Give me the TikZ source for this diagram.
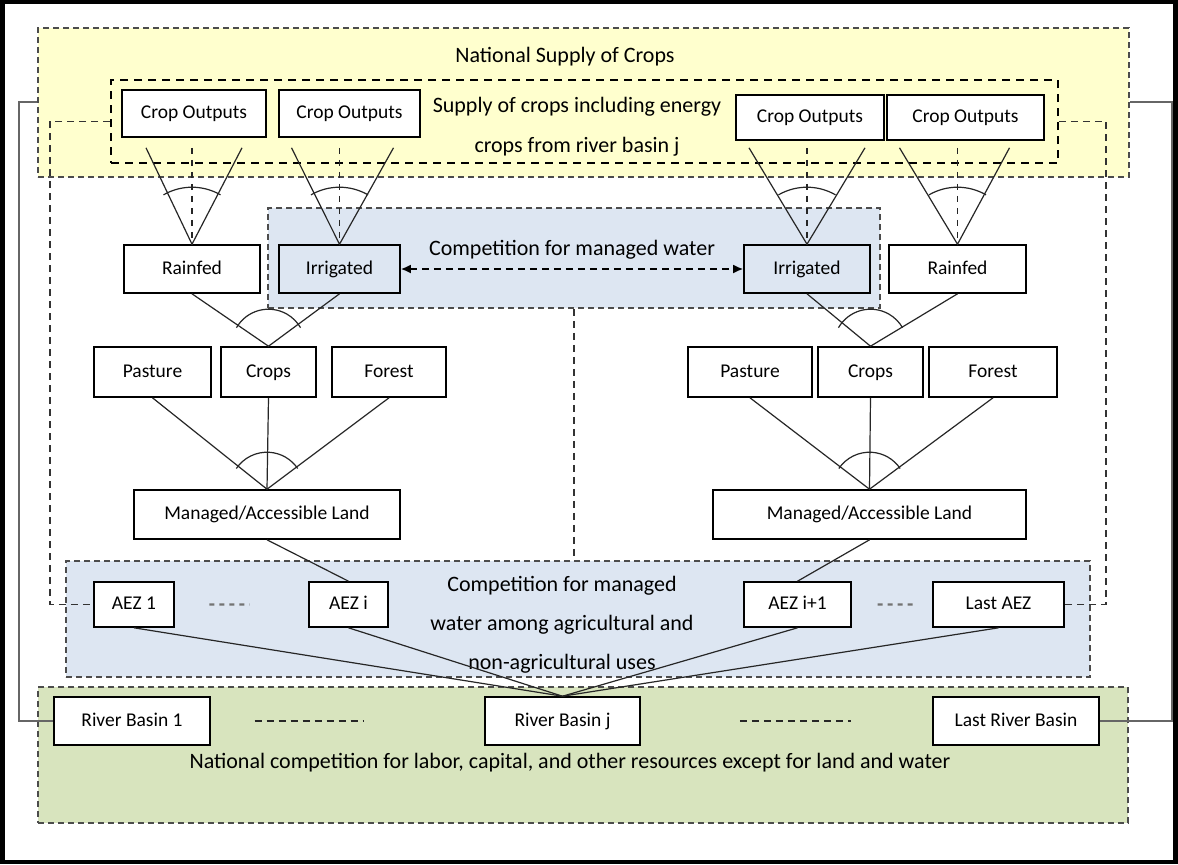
\documentclass[tikz,border=0pt]{standalone}
\usepackage{fontspec}
\setmainfont{Carlito}
\usepackage{xcolor}
\usetikzlibrary{arrows.meta,calc}
\definecolor{supplyyellow}{RGB}{255,255,206}
\definecolor{waterblue}{RGB}{221,230,242}
\definecolor{resourcegreen}{RGB}{216,228,190}
\tikzset{
  cropbox/.style={
    draw,
    line width=0.8pt,
    fill=white,
    inner sep=0,
    text height=7pt,
    text depth=2pt,
    minimum height=24pt
  },
  irrbox/.style={
    cropbox,
    fill=waterblue
  },
  zone/.style={
    draw=black!70,
    line width=0.8pt,
    dash pattern=on 3pt off 2pt,
    inner sep=0
  },
  innerzone/.style={
    draw=black,
    line width=0.8pt,
    dash pattern=on 4pt off 3pt,
    inner sep=0
  },
  zonelabel/.style={
    font=\fontsize{11}{13}\selectfont
  },
  link/.style={
    draw=black!85,
    line width=0.6pt
  },
  andarc/.style={
    draw=black!85,
    line width=0.6pt
  },
  looplink/.style={
    draw=black!80,
    line width=0.7pt,
    dash pattern=on 3.5pt off 2.5pt
  },
  frameline/.style={
    draw=black!60,
    line width=1.1pt
  },
  gapdash/.style={
    draw=black!55,
    line width=1.2pt,
    dash pattern=on 2.5pt off 2.5pt
  },
  basindash/.style={
    draw=black!85,
    line width=0.8pt,
    dash pattern=on 3.5pt off 2.5pt
  },
  wateraccess/.style={
    draw=black,
    line width=0.9pt,
    dash pattern=on 3.5pt off 2.5pt,
    {Latex[length=5pt,width=4.5pt]}-{Latex[length=5pt,width=4.5pt]}
  }
}

\begin{document}
\begin{tikzpicture}[x=0.5pt,y=-0.5pt,font=\fontsize{9.75}{12}\selectfont]
  \useasboundingbox (0,0) rectangle (1178,864);
  \fill[black] (0,0) rectangle (1178,864);
  \fill[white] (5,4) rectangle (1173,860);

  % zones
  \node[zone, fill=supplyyellow, minimum width=545.5pt, minimum height=74.5pt] (natbox) at (583.5,102.5) {};
  \node[innerzone, minimum width=473.5pt, minimum height=41.5pt] (innerbox) at (584.5,121.5) {};
  \node[zone, fill=waterblue, minimum width=306pt, minimum height=50pt] (waterbox) at (574,258) {};
  \node[zone, fill=waterblue, minimum width=512pt, minimum height=58pt] (aezbox) at (578,619) {};
  \node[zone, fill=resourcegreen, minimum width=545pt, minimum height=68pt] (natcomp) at (583,755) {};

  % labels
  \node[zonelabel] (natlabel) at (565,57) {National Supply of Crops};
  \node[align=center, font=\fontsize{11}{20}\selectfont] (supplylabel) at (577,127) {Supply of crops including energy\\crops from river basin j};
  \node[zonelabel] (waterlabel) at (572,250) {Competition for managed water};
  \node[align=center, font=\fontsize{11}{19.5}\selectfont] (aezlabel) at (562,625) {Competition for managed\\water among agricultural and\\non-agricultural uses};
  \node[zonelabel] (natcomplabel) at (570,763) {National competition for labor, capital, and other resources except for land and water};

  % crop outputs
  \node[cropbox, minimum width=72pt, minimum height=23.5pt] (co1) at (194,113.5) {Crop Outputs};
  \node[cropbox, minimum width=70.5pt, minimum height=23.5pt] (co2) at (349.5,113.5) {Crop Outputs};
  \node[cropbox, minimum width=74pt, minimum height=22.5pt] (co3) at (810,117.5) {Crop Outputs};
  \node[cropbox, minimum width=78.5pt, minimum height=22.5pt] (co4) at (965.5,117.5) {Crop Outputs};

  % rainfed / irrigated
  \node[cropbox, minimum width=68pt] (rf1) at (192,269) {Rainfed};
  \node[irrbox, minimum width=60.5pt] (ir1) at (339.5,269) {Irrigated};
  \node[irrbox, minimum width=63pt] (ir2) at (807,269) {Irrigated};
  \node[cropbox, minimum width=68.5pt] (rf2) at (957.5,269) {Rainfed};

  % land uses
  \node[cropbox, minimum width=58.5pt, minimum height=25pt] (pa1) at (152.5,372) {Pasture};
  \node[cropbox, minimum width=47.5pt, minimum height=25pt] (cr1) at (268.5,372) {Crops};
  \node[cropbox, minimum width=57pt, minimum height=25pt] (fo1) at (389,372) {Forest};
  \node[cropbox, minimum width=62pt, minimum height=25pt] (pa2) at (750,372) {Pasture};
  \node[cropbox, minimum width=52.5pt, minimum height=25pt] (cr2) at (870.5,372) {Crops};
  \node[cropbox, minimum width=64pt, minimum height=25pt] (fo2) at (993,372) {Forest};

  \node[cropbox, minimum width=133pt, minimum height=24.5pt] (ml1) at (267,514.5) {Managed/Accessible Land};
  \node[cropbox, minimum width=156.5pt, minimum height=24.5pt] (ml2) at (869.5,514.5) {Managed/Accessible Land};

  % AEZs
  \node[cropbox, minimum width=40pt, minimum height=22.5pt] (aez1) at (134,604.5) {AEZ 1};
  \node[cropbox, minimum width=39.5pt, minimum height=22.5pt] (aezi) at (348.5,604.5) {AEZ i};
  \node[cropbox, minimum width=53.5pt, minimum height=22.5pt] (aezi1) at (797.5,604.5) {AEZ i+1};
  \node[cropbox, minimum width=65.5pt, minimum height=22.5pt] (aezl) at (998.5,604.5) {Last AEZ};

  % river basins
  \node[cropbox, minimum width=78pt] (rb1) at (132,721) {River Basin 1};
  \node[cropbox, minimum width=77.5pt] (rbj) at (562.5,721) {River Basin j};
  \node[cropbox, minimum width=83pt] (rbl) at (1016,721) {Last River Basin};

  % crop outputs -> rainfed / irrigated
  \draw[link] ($(rf1.north |- co1.south)+(-46,10)$) -- (rf1.north) -- ($(rf1.north |- co1.south)+(50,10)$);
  \draw[link, dashed] ($(rf1.north |- co1.south)+(0,10)$) -- (rf1.north);
  \draw[andarc] (rf1.north) ++(-120:57) arc[start angle=-120, end angle=-60, radius=57];
  \draw[link] ($(ir1.north |- co2.south)+(-48,10)$) -- (ir1.north) -- ($(ir1.north |- co2.south)+(54,10)$);
  \draw[link, dashed] ($(ir1.north |- co2.south)+(0,10)$) -- (ir1.north);
  \draw[andarc] (ir1.north) ++(-120:57) arc[start angle=-120, end angle=-60, radius=57];
  \draw[link] ($(ir2.north |- co3.south)+(-58,7)$) -- (ir2.north) -- ($(ir2.north |- co3.south)+(58,7)$);
  \draw[link, dashed] ($(ir2.north |- co3.south)+(0,7)$) -- (ir2.north);
  \draw[andarc] (ir2.north) ++(-120:57) arc[start angle=-120, end angle=-60, radius=57];
  \draw[link] ($(rf2.north |- co4.south)+(-58,7)$) -- (rf2.north) -- ($(rf2.north |- co4.south)+(52,7)$);
  \draw[link, dashed] ($(rf2.north |- co4.south)+(0,7)$) -- (rf2.north);
  \draw[andarc] (rf2.north) ++(-120:57) arc[start angle=-120, end angle=-60, radius=57];

  % rainfed / irrigated -> crops
  \draw[link] (rf1.south) -- (cr1.north) -- (ir1.south);
  \draw[andarc] (cr1.north) ++(-150:37) arc[start angle=-150, end angle=-30, radius=37];
  \draw[link] (ir2.south) -- (cr2.north) -- (rf2.south);
  \draw[andarc] (cr2.north) ++(-150:37) arc[start angle=-150, end angle=-30, radius=37];

  % land uses -> managed land
  \draw[link] (pa1.south) -- (ml1.north) -- (fo1.south);
  \draw[link] (cr1.south) -- (ml1.north);
  \draw[andarc] (ml1.north) ++(-146:37) arc[start angle=-146, end angle=-34, radius=37];
  \draw[link] (pa2.south) -- (ml2.north) -- (fo2.south);
  \draw[link] (cr2.south) -- (ml2.north);
  \draw[andarc] (ml2.north) ++(-146:37) arc[start angle=-146, end angle=-34, radius=37];

  % managed land -> AEZ -> river basin
  \draw[link] (ml1.south) -- (aezi.north);
  \draw[link] (ml2.south) -- (aezi1.north);
  \draw[link] (aez1.south) -- (rbj.north);
  \draw[link] (aezi.south) -- (rbj.north);
  \draw[link] (aezi1.south) -- (rbj.north);
  \draw[link] (aezl.south) -- (rbj.north);

  % competition for managed water
  \draw[wateraccess] (ir1.east) -- (ir2.west);
  \draw[looplink] (waterbox.south) -- (waterbox.south |- aezbox.north);

  % dashed loops from the basin supply to the AEZs
  \coordinate (lloop) at (50,0);
  \coordinate (rloop) at (1106,0);
  \draw[looplink] (innerbox.west) -| (lloop |- aez1.west) -- (aez1.west);
  \draw[looplink] (innerbox.east) -| (rloop |- aezl.east) -- (aezl.east);

  % national links
  \coordinate (lframe) at (19,0);
  \coordinate (rframe) at (1172,0);
  \draw[frameline] ($(natbox.north west)+(0,75)$) -| (lframe |- rb1.west) -- (rb1.west);
  \draw[frameline] ($(natbox.north east)+(0,75)$) -| (rframe |- rbl.east) -- (rbl.east);

  % gaps between AEZs and basins
  \draw[gapdash] ($(aez1.east)!0.26!(aezi.west)$) -- ($(aez1.east)!0.56!(aezi.west)$);
  \draw[gapdash] ($(aezi1.east)!0.32!(aezl.west)$) -- ($(aezi1.east)!0.8!(aezl.west)$);
  \draw[basindash] ($(rb1.east)!0.16!(rbj.west)$) -- ($(rb1.east)!0.56!(rbj.west)$);
  \draw[basindash] ($(rbj.east)!0.34!(rbl.west)$) -- ($(rbj.east)!0.72!(rbl.west)$);
\end{tikzpicture}
\end{document}
